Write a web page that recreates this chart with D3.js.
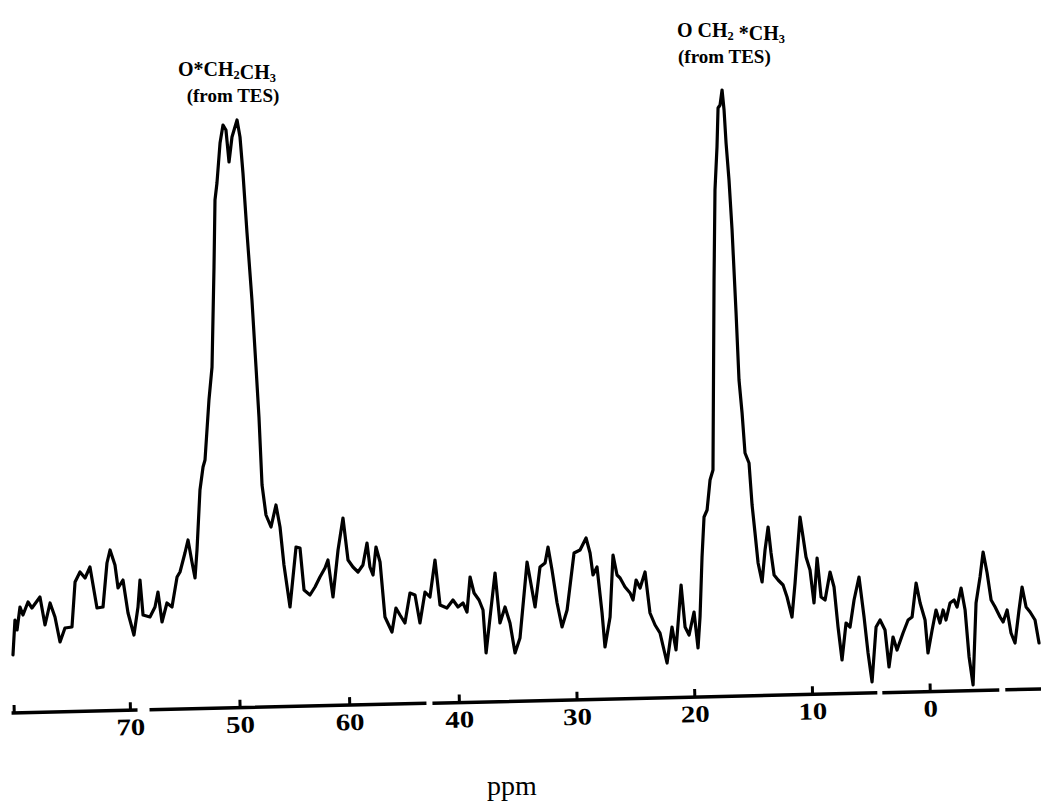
<!DOCTYPE html>
<html>
<head>
<meta charset="utf-8">
<script src="https://cdn.jsdelivr.net/npm/d3@7"></script>
<style>
  body { margin: 0; background: #fff; }
</style>
</head>
<body>
<div id="wrapper"></div>
<script>
// Traced spectrum: chemical shift (ppm) and signal height, left to right
const ppm = [
  80.67, 80.49, 80.30, 80.03, 79.76, 79.30, 78.94, 78.21, 77.75, 77.29,
  76.84, 76.38, 75.93, 75.29, 75.01, 74.56, 74.10, 73.65, 73.01, 72.46,
  72.10, 71.82, 71.37, 71.09, 70.64, 70.18, 69.64, 69.27, 69.09, 68.81,
  68.18, 67.72, 67.45, 67.08, 66.63, 66.17, 65.71, 65.44, 64.99, 64.71,
  64.35, 64.07, 63.89, 63.62, 63.34, 63.16, 62.80, 62.52, 62.34, 62.25,
  62.07, 61.79, 61.52, 61.25, 60.97, 60.70, 60.24, 59.97, 59.70, 59.33,
  58.88, 58.51, 58.24, 57.96, 57.60, 57.14, 56.69, 56.32, 55.96, 55.41,
  54.86, 54.50, 54.13, 53.59, 53.13, 52.68, 52.22, 51.95, 51.49, 51.03,
  50.58, 50.12, 49.67, 49.21, 48.76, 48.39, 48.12, 47.84, 47.57, 47.20,
  46.75, 46.11, 45.75, 45.38, 44.93, 44.47, 44.01, 43.56, 43.10, 42.65,
  42.19, 41.73, 41.10, 40.55, 40.09, 39.66, 39.32, 39.06, 38.72, 38.30,
  37.96, 37.70, 37.36, 36.94, 36.52, 36.09, 35.67, 35.24, 34.82, 34.22,
  33.54, 33.12, 32.69, 32.44, 32.10, 31.67, 31.25, 30.82, 30.23, 29.72,
  29.21, 28.87, 28.62, 28.28, 27.85, 27.60, 27.17, 26.92, 26.58, 26.32,
  25.90, 25.47, 25.22, 24.96, 24.62, 24.20, 23.78, 23.35, 22.93, 22.33,
  21.91, 21.57, 21.14, 20.80, 20.46, 20.04, 19.70, 19.53, 19.36, 19.19,
  18.93, 18.68, 18.43, 18.34, 18.26, 18.09, 18.00, 17.83, 17.66, 17.49,
  17.32, 17.07, 16.81, 16.47, 16.22, 15.96, 15.71, 15.37, 15.11, 14.86,
  14.60, 14.26, 14.01, 13.75, 13.50, 13.24, 12.90, 12.48, 12.14, 11.72,
  11.46, 11.04, 10.78, 10.53, 10.19, 9.85, 9.59, 9.25, 8.91, 8.49,
  8.15, 7.81, 7.47, 7.13, 6.79, 6.45, 6.03, 5.60, 5.26, 4.92,
  4.58, 4.24, 3.82, 3.48, 3.14, 2.80, 2.29, 1.86, 1.52, 1.18,
  0.84, 0.42, 0.17, -0.18, -0.51, -0.85, -1.11, -1.36, -1.70, -2.04,
  -2.30, -2.64, -2.98, -3.32, -3.66, -3.91, -4.25, -4.51, -4.85, -5.19,
  -5.53, -5.95, -6.21, -6.55, -6.88, -7.22, -7.56, -7.82, -8.16, -8.50,
  -8.92, -9.26
]
const intensity = [
  4.5, 8.0, 7.0, 9.3, 8.5, 9.8, 9.2, 10.3, 7.5, 9.7,
  8.3, 5.8, 7.2, 7.3, 11.8, 12.8, 12.2, 13.3, 9.2, 9.3,
  13.7, 15.0, 13.5, 11.2, 12.0, 8.7, 6.5, 9.3, 12.0, 8.5,
  8.3, 9.3, 10.8, 7.8, 9.7, 9.3, 12.3, 12.8, 14.7, 16.0,
  13.8, 12.2, 15.0, 21.0, 23.3, 24.0, 30.0, 33.3, 43.3, 50.0,
  51.7, 55.7, 57.5, 57.0, 53.8, 56.3, 58.0, 56.3, 52.7, 46.7,
  40.0, 33.3, 28.3, 21.5, 18.5, 17.3, 19.5, 17.3, 13.5, 9.3,
  15.3, 15.2, 11.0, 10.5, 11.3, 12.3, 13.2, 14.0, 10.3, 15.0,
  18.2, 14.0, 13.3, 12.8, 13.5, 15.7, 13.3, 12.5, 15.3, 13.8,
  8.3, 6.8, 9.2, 8.5, 7.7, 10.7, 10.5, 7.7, 10.8, 10.3,
  14.0, 9.5, 9.2, 10.0, 9.3, 9.7, 8.8, 12.3, 10.7, 10.0,
  9.0, 4.7, 8.3, 12.7, 7.7, 9.3, 7.7, 4.7, 6.2, 13.8,
  9.3, 13.3, 13.7, 15.3, 13.0, 9.7, 7.3, 9.0, 14.7, 15.0,
  16.2, 14.7, 12.5, 13.3, 8.7, 5.3, 8.3, 14.5, 12.5, 12.2,
  11.3, 10.7, 10.0, 12.0, 11.2, 12.8, 8.7, 7.5, 6.7, 3.7,
  7.3, 5.0, 11.5, 7.3, 6.5, 8.8, 5.2, 8.3, 14.3, 18.3,
  19.0, 22.0, 23.0, 42.0, 51.0, 55.3, 59.2, 59.5, 61.0, 59.0,
  55.7, 52.0, 47.0, 38.7, 32.0, 28.7, 24.7, 23.7, 19.5, 16.7,
  13.7, 11.8, 15.0, 17.3, 14.7, 12.5, 12.0, 11.5, 10.3, 8.3,
  11.7, 18.3, 16.3, 14.3, 13.0, 9.7, 14.2, 10.3, 10.0, 12.8,
  11.3, 7.3, 4.0, 7.7, 7.3, 10.0, 12.3, 8.3, 4.7, 1.8,
  7.3, 8.0, 7.0, 3.3, 6.3, 5.0, 6.7, 8.0, 8.3, 11.7,
  9.7, 8.0, 4.7, 7.0, 9.0, 7.7, 9.0, 8.0, 9.7, 10.0,
  9.3, 11.2, 9.0, 4.3, 1.5, 9.7, 12.3, 14.8, 12.7, 10.0,
  9.3, 8.3, 7.8, 9.0, 6.7, 5.7, 9.0, 11.3, 9.3, 8.8,
  8.0, 5.7
]

// Axis: tick positions (ppm) and the labels as printed on the scan
const tickValues = [80.6, 70, 60, 50, 40, 30, 20, 10, 0]
const tickLabels = ["", "70", "50", "60", "40", "30", "20", "10", "0"]
const axisExtent = [80.8, -9.6]

// Peak assignments
const peakPpm = [60.24, 17.66]
const peakNames = ["O*CH_2CH_3", "O CH_2 *CH_3"]
const peakSource = "(from TES)"

const dimensions = { width: 1041, height: 809 }

const svg = d3.select("#wrapper").append("svg")
    .attr("width", dimensions.width)
    .attr("height", dimensions.height)
    .style("background", "#fff")

// Scales (the printed axis is not quite linear, so use a piecewise scale)
const xScale = d3.scaleLinear()
    .domain([70, 40, 0])
    .range([130, 459, 930])

const yScale = d3.scaleLinear()
    .domain([0, 60])
    .range([700, 100])

const serif = "'Liberation Serif', 'Times New Roman', serif"

// Spectrum trace
const points = ppm.map((p, i) => [p, intensity[i]])
const line = d3.line()
    .x(d => xScale(d[0]))
    .y(d => yScale(d[1]))

svg.append("path")
    .datum(points)
    .attr("d", line)
    .attr("fill", "none")
    .attr("stroke", "#000")
    .attr("stroke-width", 3.2)
    .attr("stroke-linejoin", "round")
    .attr("stroke-linecap", "round")

// Axis, drawn slightly tilted like the scanned page
const axisGroup = svg.append("g")
    .attr("transform", "translate(0,713) rotate(-1.336,12,0)")

axisGroup.append("line")
    .attr("x1", xScale(axisExtent[0]))
    .attr("x2", xScale(axisExtent[1]))
    .attr("stroke", "#000")
    .attr("stroke-width", 3.5)
    .attr("stroke-dasharray", "126 12 277 6 445 5 117 6 200")

const xAxis = d3.axisBottom(xScale)
    .tickValues(tickValues)
    .tickFormat((d, i) => tickLabels[i])
    .tickSize(-8)
    .tickPadding(8)

axisGroup.append("g")
    .call(xAxis)
    .call(g => g.select(".domain").remove())
    .call(g => g.selectAll(".tick line").attr("stroke", "#000").attr("stroke-width", 3))
    .call(g => g.selectAll(".tick text")
        .attr("fill", "#000")
        .attr("font-family", serif)
        .attr("font-weight", "bold")
        .attr("font-size", 24)
        .attr("transform", "scale(1.2,1)"))

// x axis title
svg.append("text")
    .attr("x", 512)
    .attr("y", 795)
    .attr("text-anchor", "middle")
    .attr("font-family", serif)
    .attr("font-size", 28)
    .text("ppm")

// chemical formula with subscripts written as _n
function formula(sel, str) {
  str.split(/(_\d)/).filter(s => s.length).forEach(part => {
    if (part[0] === "_") {
      sel.append("tspan").attr("font-size", "0.62em").attr("dy", 3).text(part.slice(1))
      sel.append("tspan").attr("dy", -3).text("")
    } else {
      sel.append("tspan").text(part)
    }
  })
}

const labelLayout = [
  { anchor: "middle", dx1: -10, dx2: -4, y1: 76, y2: 102 },
  { anchor: "start", dx1: -45, dx2: -44, y1: 37, y2: 63 }
]

peakPpm.forEach((p, i) => {
  const l = labelLayout[i]
  const t1 = svg.append("text")
      .attr("x", xScale(p) + l.dx1)
      .attr("y", l.y1)
      .attr("text-anchor", l.anchor)
      .attr("font-family", serif)
      .attr("font-weight", "bold")
      .attr("font-size", 20)
  formula(t1, peakNames[i])
  svg.append("text")
      .attr("x", xScale(p) + l.dx2)
      .attr("y", l.y2)
      .attr("text-anchor", l.anchor)
      .attr("font-family", serif)
      .attr("font-weight", "bold")
      .attr("font-size", 19)
      .text(peakSource)
})
</script>
</body>
</html>
